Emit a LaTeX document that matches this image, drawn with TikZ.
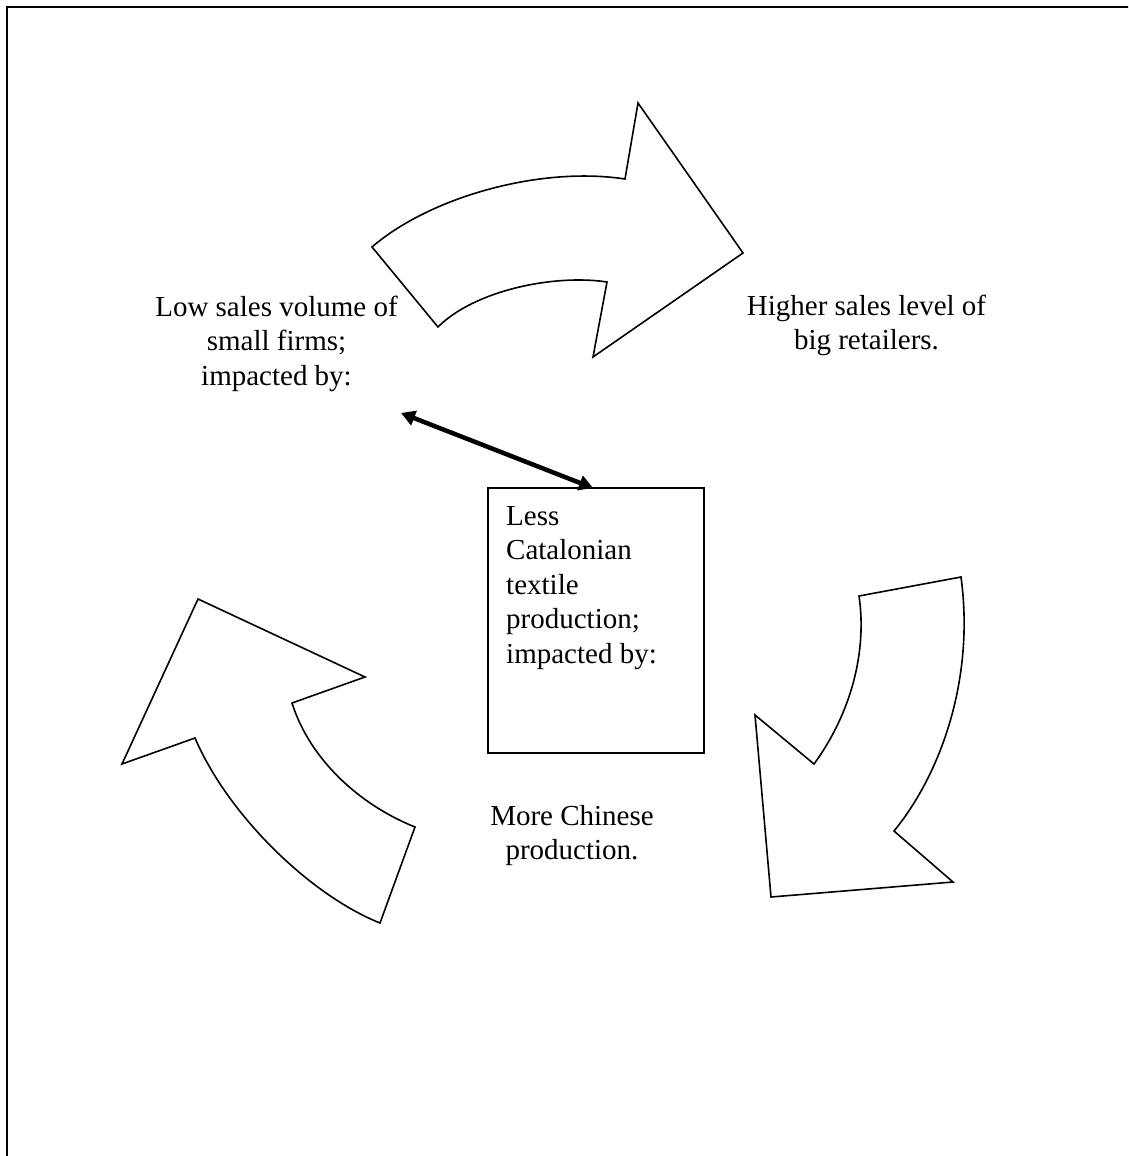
\documentclass[tikz,border=0pt]{standalone}
\usepackage{fontspec}
\setmainfont{Liberation Serif}
\usetikzlibrary{arrows.meta,calc}
\begin{document}
\begin{tikzpicture}[x=1pt,y=-1pt,
  bigarrow/.style={draw=black,fill=white,line width=1.6pt,line join=miter},
  label/.style={font=\fontsize{29}{34.5}\selectfont,inner sep=0pt,align=center},
  linkarrow/.style={line width=4.5pt,{Triangle[length=14pt,width=15pt]}-{Triangle[length=14pt,width=15pt]}}]
\useasboundingbox (0,0) rectangle (1128,1156);
\clip (0,0) rectangle (1128,1156);
\fill[white] (0,0) rectangle (1128,1156);

% page frame
\draw[line width=2.4pt] (7,1170) -- (7,7) -- (1140,7);

% curved arrow at the top, pointing right
\draw[bigarrow] (372,247) .. controls (430,197) and (540,166) .. (625,179)
  -- (638,103) -- (743,253) -- (593,357) -- (607,282)
  .. controls (555,274) and (475,290) .. (438,327) -- cycle;

% curved arrow on the right, pointing down
\draw[bigarrow] (961,577) -- (859,596)
  .. controls (867,650) and (852,712) .. (814,764)
  -- (755,715) -- (771,897) -- (953,882) -- (894,831)
  .. controls (940,775) and (975,680) .. cycle;

% curved arrow on the left, pointing up
\draw[bigarrow] (198,599) -- (365,677) -- (292,703)
  .. controls (310,760) and (360,805) .. (415,827)
  -- (380,923)
  .. controls (310,895) and (228,815) .. (195,738)
  -- (122,764) -- cycle;

% labels (anchored at the baseline of their last line)
\node[label,anchor=base] (low) at (276.5,385) {Low sales volume of\\small firms;\\impacted by:};
\node[label,anchor=base] (high) at (866.5,349.5) {Higher sales level of\\big retailers.};
\node[label,anchor=base] (chinese) at (572,859.5) {More Chinese\\production.};

% central box
\node[draw,line width=2pt,minimum width=216pt,minimum height=265pt,anchor=north west,inner sep=0pt] (box) at (487,487) {};
\node[label,align=left,anchor=base west] (boxtext) at (506,663) {Less\\Catalonian\\textile\\production;\\impacted by:};

% two-headed link between the box and the left label
\coordinate (lowend) at (401,413);
\coordinate (boxend) at ($(box.north west)+(106,1)$);
\draw[linkarrow] (lowend) -- (boxend);
\end{tikzpicture}
\end{document}
